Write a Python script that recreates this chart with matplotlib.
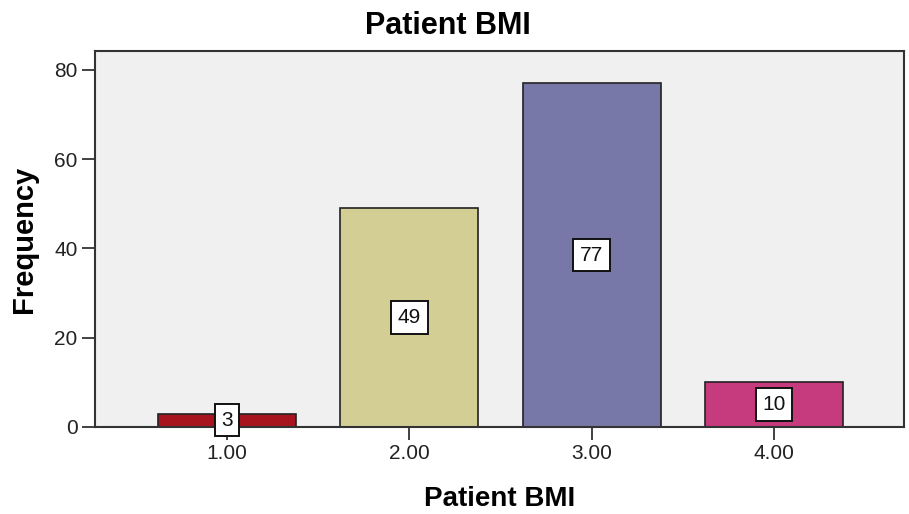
import matplotlib
matplotlib.use("Agg")
import matplotlib.pyplot as plt

categories = [1.0, 2.0, 3.0, 4.0]
tick_labels = ["1.00", "2.00", "3.00", "4.00"]
counts = [3, 49, 77, 10]
colors = ["#a8141e", "#d3cf94", "#7878a8", "#c63a7e"]

plt.rcParams["font.family"] = ["Liberation Sans", "DejaVu Sans"]

fig = plt.figure(figsize=(9.09, 5.14), dpi=100)
ax = fig.add_axes([0.1045, 0.1693, 0.89, 0.7315])
ax.set_facecolor("#f0f0f0")

ax.bar(categories, counts, width=0.756, color=colors, edgecolor="#222222", linewidth=1.2, zorder=2)

# value labels in white boxes at half bar height
for x, c in zip(categories, counts):
    ax.text(x, c / 2, str(c), ha="center", va="center", fontsize=15, color="#111111",
            zorder=3, clip_on=False,
            bbox=dict(boxstyle="square,pad=0.32", facecolor="white", edgecolor="#111111", linewidth=1.4))

ax.set_xlim(0.276, 4.713)
ax.set_ylim(0, 84.2)
ax.set_xticks(categories)
ax.set_xticklabels(tick_labels)
ax.set_yticks([0, 20, 40, 60, 80])
ax.tick_params(axis="both", direction="out", length=9.5, width=1.3, colors="#333333",
               labelsize=15, labelcolor="#222222", pad=3)

for s in ax.spines.values():
    s.set_color("#333333")
    s.set_linewidth(1.5)

fig.text(448 / 909, 1 - 26 / 514, "Patient BMI", ha="center", va="center", fontsize=22, fontweight="bold")
fig.text(500 / 909, 1 - 499 / 514, "Patient BMI", ha="center", va="center", fontsize=20, fontweight="bold")
fig.text(24 / 909, 1 - 239 / 514, "Frequency", ha="center", va="center", rotation=90, fontsize=21, fontweight="bold")

fig.savefig("out.png", dpi=100)
